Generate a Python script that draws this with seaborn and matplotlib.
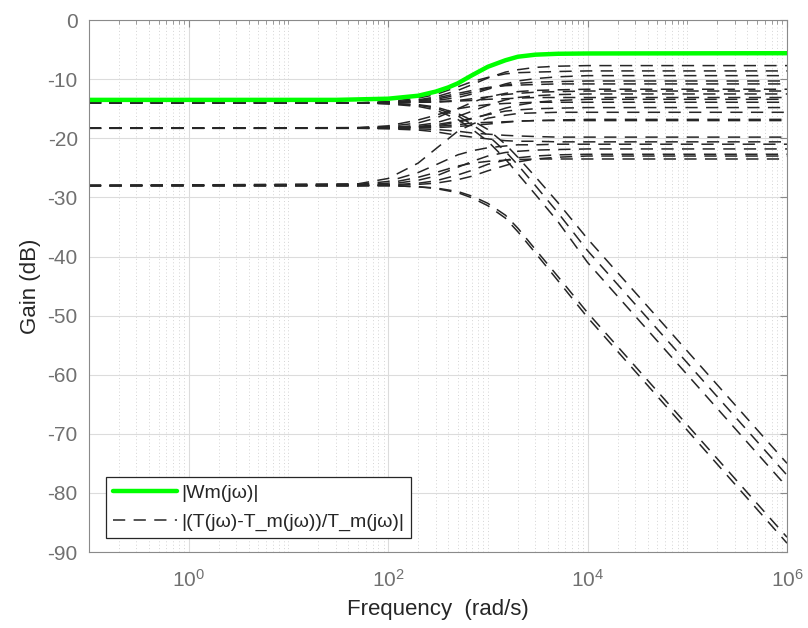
import numpy as np
import pandas as pd
import matplotlib
matplotlib.use("Agg")
import matplotlib.pyplot as plt
import seaborn as sns
from matplotlib.lines import Line2D
from matplotlib.ticker import FixedLocator, NullFormatter, LogFormatterSciNotation

# ---------------- data ----------------
freq = [0.1, 50, 100, 200, 300, 500, 700, 1000, 1500, 2000, 3000, 5000, 1e4, 1e5, 1e6]

A1 = [-14.0, -14.0, -13.9, -13.5, -13.0, -11.9, -10.9, -9.8, -8.8, -8.4, -8.0, -7.8, -7.7, -7.7, -7.7]
A2 = [-14.0, -14.0, -13.8, -13.2, -12.6, -11.3, -10.4, -9.7, -9.1, -8.9, -8.8, -8.7, -8.6, -8.6, -8.6]
A3 = [-14.0, -14.0, -14.0, -13.8, -13.6, -13.1, -12.5, -11.7, -10.8, -10.3, -9.9, -9.6, -9.4, -9.4, -9.4]
A4 = [-14.0, -14.0, -13.9, -13.7, -13.4, -12.7, -12.2, -11.5, -11.0, -10.7, -10.5, -10.4, -10.3, -10.3, -10.3]
A5 = [-14.0, -14.0, -13.9, -13.6, -13.2, -12.4, -11.9, -11.4, -11.1, -11.0, -10.9, -10.8, -10.8, -10.8, -10.8]
A6 = [-14.0, -14.0, -14.0, -13.9, -13.8, -13.6, -13.3, -13.0, -12.6, -12.4, -12.2, -12.1, -12.0, -12.0, -12.0]
A7 = [-14.0, -14.0, -14.0, -13.9, -13.9, -13.7, -13.6, -13.4, -13.3, -13.2, -13.1, -13.1, -13.1, -13.1, -13.1]
B1 = [-18.3, -18.2, -18.0, -17.4, -16.6, -15.0, -13.9, -13.0, -12.4, -12.1, -11.9, -11.8, -11.7, -11.7, -11.7]
B2 = [-18.3, -18.3, -18.2, -17.8, -17.4, -16.3, -15.4, -14.4, -13.5, -13.1, -12.8, -12.6, -12.5, -12.5, -12.5]
B3 = [-18.3, -18.3, -18.3, -18.1, -17.9, -17.3, -16.7, -15.9, -14.9, -14.4, -13.9, -13.6, -13.4, -13.4, -13.4]
B4 = [-18.3, -18.2, -17.9, -16.9, -16.1, -15.0, -14.6, -14.3, -14.1, -14.0, -13.9, -13.9, -13.9, -13.9, -13.9]
B5 = [-18.3, -18.3, -18.2, -18.0, -17.7, -17.1, -16.6, -16.0, -15.4, -15.2, -15.0, -14.9, -14.8, -14.8, -14.8]
B6 = [-18.3, -18.3, -18.2, -18.1, -18.0, -17.7, -17.4, -17.3, -17.2, -17.1, -17.0, -17.0, -17.0, -17.0, -17.0]
B7 = [-18.3, -18.3, -18.3, -18.2, -18.2, -18.0, -17.8, -17.6, -17.3, -17.1, -17.0, -16.9, -16.8, -16.8, -16.8]
B8 = [-18.3, -18.3, -18.3, -18.4, -18.5, -18.8, -19.1, -19.3, -19.5, -19.6, -19.7, -19.8, -19.8, -19.8, -19.8]
B9 = [-18.3, -18.3, -18.4, -18.6, -18.9, -19.5, -19.8, -20.1, -20.4, -20.5, -20.5, -20.6, -20.6, -20.6, -20.6]
C1 = [-28.0, -27.7, -26.8, -24.2, -21.8, -18.8, -17.6, -16.6, -16.1, -15.8, -15.7, -15.6, -15.6, -15.6, -15.6]
C2 = [-28.0, -27.8, -27.3, -25.8, -24.5, -22.8, -22.1, -21.6, -21.3, -21.1, -21.1, -21.0, -21.0, -21.0, -21.0]
C3 = [-28.0, -28.0, -27.8, -27.1, -26.4, -24.9, -23.9, -23.0, -22.4, -22.2, -22.0, -21.9, -21.8, -21.8, -21.8]
C4 = [-28.0, -28.0, -27.9, -27.6, -27.2, -26.2, -25.4, -24.4, -23.7, -23.3, -23.0, -22.8, -22.7, -22.7, -22.7]
C5 = [-28.0, -28.0, -28.0, -27.8, -27.6, -27.0, -26.4, -25.5, -24.6, -24.0, -23.5, -23.2, -23.0, -23.0, -23.0]
C6 = [-28.0, -27.9, -27.6, -26.6, -25.8, -24.7, -24.2, -23.9, -23.7, -23.6, -23.5, -23.5, -23.5, -23.5, -23.5]
R1 = [-28.0, -28.0, -28.0, -28.2, -28.4, -29.0, -29.8, -31.0, -33.0, -35.2, -38.8, -43.3, -49.5, -68.5, -87.5]
R2 = [-28.0, -28.0, -28.0, -28.2, -28.5, -29.2, -30.1, -31.4, -33.5, -35.8, -39.4, -44.0, -50.3, -69.4, -88.5]
R3 = [-14.0, -14.0, -14.1, -14.3, -14.7, -15.8, -17.0, -18.5, -21.0, -23.2, -26.5, -30.8, -37.0, -56.0, -75.0]
R4 = [-14.0, -14.0, -14.1, -14.4, -14.9, -16.2, -17.7, -19.5, -22.2, -24.5, -28.0, -32.5, -39.0, -58.0, -77.0]
R5 = [-14.0, -14.0, -14.2, -14.6, -15.2, -16.8, -18.5, -20.5, -23.5, -26.0, -29.5, -34.0, -41.0, -60.0, -79.0]

wm_freq = [0.1, 30, 100, 200, 300, 400, 500, 700, 1000, 1500, 2000, 3000, 5000, 1e4, 1e6]
wm_gain = [-13.5, -13.5, -13.3, -12.8, -12.1, -11.4, -10.7, -9.3, -7.9, -6.8, -6.2, -5.85, -5.7, -5.65, -5.6]

labels = ["|Wm(j\u03c9)|", "|(T(j\u03c9)-T_m(j\u03c9))/T_m(j\u03c9)|"]
y_ticks = [-90, -80, -70, -60, -50, -40, -30, -20, -10, 0]
x_major = [1, 1e2, 1e4, 1e6]

curves = {"A1": A1, "A2": A2, "A3": A3, "A4": A4, "A5": A5, "A6": A6, "A7": A7,
          "B1": B1, "B2": B2, "B3": B3, "B4": B4, "B5": B5, "B6": B6, "B7": B7,
          "B8": B8, "B9": B9, "C1": C1, "C2": C2, "C3": C3, "C4": C4, "C5": C5,
          "C6": C6, "R1": R1, "R2": R2, "R3": R3, "R4": R4, "R5": R5}

rows = []
for name, vals in curves.items():
    for f, g in zip(freq, vals):
        rows.append({"freq": f, "gain": g, "curve": name})
df = pd.DataFrame(rows)
df_wm = pd.DataFrame({"freq": wm_freq, "gain": wm_gain})

# ---------------- style ----------------
sns.set_theme(style="white")
plt.rcParams["font.family"] = ["Liberation Sans", "DejaVu Sans"]
plt.rcParams["axes.unicode_minus"] = False
plt.rcParams["mathtext.fontset"] = "custom"
plt.rcParams["mathtext.rm"] = "Liberation Sans"
plt.rcParams["mathtext.it"] = "Liberation Sans:italic"
plt.rcParams["mathtext.bf"] = "Liberation Sans:bold"

fig, ax = plt.subplots(figsize=(8.08, 6.28), dpi=100)
fig.subplots_adjust(left=0.110, right=0.974, top=0.968, bottom=0.121)
ax.set_xscale("log")

dash_color = "#262626"
DASH = (8, 5.5)

sns.lineplot(data=df, x="freq", y="gain", units="curve", estimator=None, sort=False,
             color=dash_color, linewidth=1.1, ax=ax, legend=False)
for ln in ax.get_lines():
    ln.set_dashes(DASH)

sns.lineplot(data=df_wm, x="freq", y="gain", estimator=None, sort=False,
             color="#00ff00", linewidth=3.2, ax=ax, legend=False)

ax.set_xlim(0.1, 1e6)
ax.set_ylim(-90, 0)
ax.set_yticks(y_ticks)
ax.xaxis.set_major_locator(FixedLocator(x_major))
ax.xaxis.set_major_formatter(LogFormatterSciNotation())
minors = [m * 10.0 ** k for k in range(-1, 6) for m in range(1, 10)]
minors = [v for v in minors if not any(np.isclose(v, x_major))]
ax.xaxis.set_minor_locator(FixedLocator(minors))
ax.xaxis.set_minor_formatter(NullFormatter())

ax.set_axisbelow(True)
ax.grid(which="major", color="#dcdcdc", linewidth=0.8, linestyle="-")
ax.grid(which="minor", axis="x", color="#d4d4d4", linewidth=0.7, linestyle=(0, (1, 2.5)))

for sp in ax.spines.values():
    sp.set_color("#8a8a8a")
    sp.set_linewidth(0.8)

ax.tick_params(which="both", direction="in", top=True, right=True, color="#8a8a8a")
ax.tick_params(which="major", length=5, width=0.8, labelsize=15, labelcolor="#707070", pad=8)
ax.tick_params(axis="x", which="major", pad=12)
ax.tick_params(which="minor", length=3, width=0.6)

ax.set_xlabel("Frequency  (rad/s)", fontsize=16, color="#262626", labelpad=6)
ax.set_ylabel("Gain (dB)", fontsize=16, color="#262626", labelpad=4.5)

handles = [Line2D([], [], color="#00ff00", lw=3.2),
           Line2D([], [], color=dash_color, lw=1.1, dashes=DASH)]
leg = ax.legend(handles, labels, loc="lower left", bbox_to_anchor=(0.025, 0.026),
                borderaxespad=0, fontsize=14, frameon=True, fancybox=False,
                framealpha=1, edgecolor="#262626", borderpad=0.35, labelspacing=0.6,
                handlelength=3.3, handletextpad=0.2)
leg.get_frame().set_linewidth(0.9)
for t in leg.get_texts():
    t.set_color("#262626")

fig.savefig("out.png", dpi=100)
